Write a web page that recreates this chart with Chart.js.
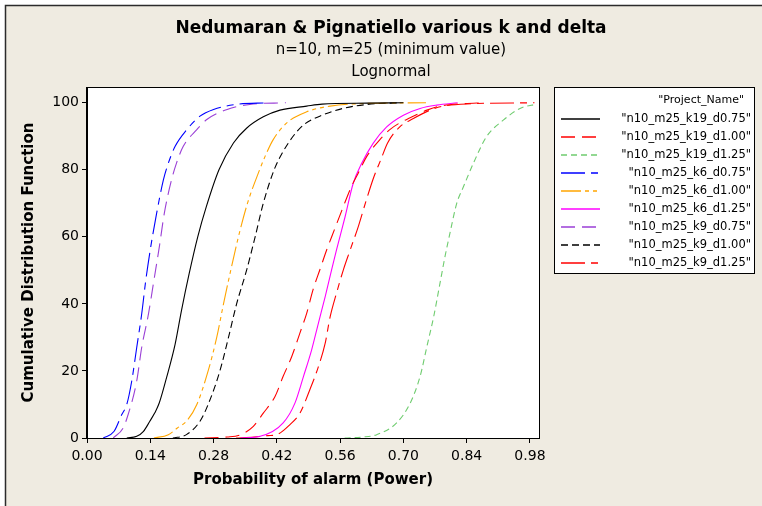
<!DOCTYPE html>
<html>
<head>
<meta charset="utf-8">
<title>Nedumaran &amp; Pignatiello various k and delta</title>
<script src="https://cdn.jsdelivr.net/npm/chart.js@4.4.1/dist/chart.umd.min.js"></script>
<style>
  html, body { margin: 0; padding: 0; background: #fff; }
  canvas { display: block; }
</style>
</head>
<body>
<canvas id="cdf" width="762" height="506"></canvas>
<script>
// Empirical CDFs of the alarm probability, one pair of arrays per run
const seriesNames = [
  '"n10_m25_k19_d0.75"', '"n10_m25_k19_d1.00"', '"n10_m25_k19_d1.25"',
  '"n10_m25_k6_d0.75"', '"n10_m25_k6_d1.00"', '"n10_m25_k6_d1.25"',
  '"n10_m25_k9_d0.75"', '"n10_m25_k9_d1.00"', '"n10_m25_k9_d1.25"'
];
const seriesColors = ['#000000', '#ff0000', '#6fcc6f', '#0000ff', '#ffa500', '#ff00ff', '#9a3fd6', '#000000', '#ff0000'];
const seriesDashes = [[], [14, 7], [6, 4], [24, 6, 7, 6], [20, 4, 4, 4, 4, 4], [], [14, 7], [7, 4], [24, 6, 7, 6]];

const powerK19D075 = [0.088, 0.110, 0.125, 0.139, 0.150, 0.160, 0.176, 0.195, 0.209, 0.226, 0.245, 0.264, 0.292, 0.324, 0.353, 0.390, 0.427, 0.486, 0.520, 0.620, 0.700];
const cdfK19D075   = [0, 0.5, 2, 5, 7.5, 10.5, 18, 28, 38, 49, 60, 69, 80, 88, 92.4, 95.8, 97.8, 99, 99.6, 99.9, 100];

const powerK19D100 = [0.26, 0.31, 0.34, 0.368, 0.39, 0.416, 0.434, 0.453, 0.471, 0.486, 0.500, 0.515, 0.530, 0.547, 0.567, 0.585, 0.600, 0.619, 0.648, 0.670, 0.692, 0.715, 0.752, 0.781, 0.83, 0.88];
const cdfK19D100   = [0, 0.3, 1, 3.5, 7.4, 12.4, 18.4, 24.3, 31.3, 37.2, 44.2, 50.1, 56, 62, 69, 75, 79, 84, 89, 92, 94, 95.5, 97.8, 99, 99.7, 100];

const powerK19D125 = [0.57, 0.61, 0.641, 0.685, 0.715, 0.737, 0.752, 0.767, 0.781, 0.792, 0.803, 0.818, 0.833, 0.855, 0.884, 0.921, 0.958, 0.995];
const cdfK19D125   = [0, 0.3, 1, 4.5, 10.4, 18.4, 27.3, 36.2, 46.2, 54.1, 61.1, 70, 75, 82, 89.9, 94.8, 98.3, 99.6];

const powerK6D075 = [0.036, 0.060, 0.077, 0.088, 0.099, 0.110, 0.121, 0.130, 0.141, 0.154, 0.169, 0.180, 0.195, 0.221, 0.250, 0.280, 0.330, 0.400];
const cdfK6D075   = [0, 2, 7, 10, 17, 27, 37, 47, 57, 67, 77, 82, 87, 92, 96, 98, 99.5, 100];

const powerK6D100 = [0.148, 0.18, 0.20, 0.22, 0.243, 0.268, 0.287, 0.302, 0.318, 0.335, 0.355, 0.379, 0.394, 0.412, 0.442, 0.486, 0.538, 0.62, 0.75];
const cdfK6D100   = [0, 1, 3, 5, 10, 20, 30, 40, 50, 60, 70, 79, 84, 89, 94, 97.3, 99, 99.8, 100];

const powerK6D125 = [0.34, 0.383, 0.434, 0.460, 0.479, 0.497, 0.512, 0.527, 0.541, 0.552, 0.571, 0.589, 0.608, 0.633, 0.663, 0.700, 0.737, 0.774, 0.82];
const cdfK6D125   = [0, 0.5, 4.5, 10.4, 18.4, 26.3, 34.3, 42.2, 50.1, 56.1, 66, 76, 82, 87.9, 92.8, 96.3, 98.3, 99.3, 100];

const powerK9D075 = [0.058, 0.080, 0.091, 0.110, 0.121, 0.136, 0.148, 0.160, 0.171, 0.187, 0.198, 0.213, 0.243, 0.265, 0.310, 0.360, 0.440];
const cdfK9D075   = [0, 3, 7, 17, 27, 37, 47, 57, 67, 77, 82, 87, 92, 95, 98, 99.5, 100];

const powerK9D100 = [0.19, 0.22, 0.25, 0.268, 0.294, 0.313, 0.331, 0.353, 0.372, 0.390, 0.414, 0.432, 0.456, 0.480, 0.515, 0.566, 0.62, 0.69];
const cdfK9D100   = [0, 1, 5, 10, 20, 30, 40, 50, 60, 70, 80, 85, 90, 93.5, 96, 98.3, 99.5, 100];

const powerK9D125 = [0.33, 0.37, 0.40, 0.42, 0.449, 0.471, 0.493, 0.512, 0.527, 0.538, 0.552, 0.567, 0.582, 0.600, 0.618, 0.635, 0.650, 0.665, 0.692, 0.722, 0.759, 0.788, 0.85, 0.99];
const cdfK9D125   = [0, 0.3, 0.7, 1, 4, 7.4, 14.4, 21.3, 28.3, 36.2, 43.2, 50.1, 56, 63, 71, 78, 83, 88, 92.8, 95.3, 97.8, 99, 99.7, 100];

const xTicks = [0.00, 0.14, 0.28, 0.42, 0.56, 0.70, 0.84, 0.98];
const yTicks = [0, 20, 40, 60, 80, 100];

const FONT = "'DejaVu Sans', Verdana, sans-serif";

function pts(xs, ys) {
  return xs.map((x, i) => ({ x: x, y: ys[i] }));
}

function series(i, xs, ys) {
  return {
    label: seriesNames[i],
    data: pts(xs, ys),
    borderColor: seriesColors[i],
    borderDash: seriesDashes[i],
    borderWidth: 1.1,
    pointRadius: 0,
    fill: false,
    cubicInterpolationMode: 'monotone'
  };
}

// white plot area, beige surround, frame around the axes
const backdrop = {
  id: 'backdrop',
  beforeDraw(chart) {
    const { ctx, chartArea: a, width, height } = chart;
    ctx.save();
    ctx.fillStyle = '#fff';
    ctx.fillRect(0, 0, width, height);
    ctx.fillStyle = '#efebe1';
    ctx.fillRect(5, 5, width - 5, height - 5);
    ctx.strokeStyle = '#2b2b2b';
    ctx.lineWidth = 1.5;
    ctx.beginPath();
    ctx.moveTo(5.5, height);
    ctx.lineTo(5.5, 5.5);
    ctx.lineTo(width, 5.5);
    ctx.stroke();
    ctx.fillStyle = '#fff';
    ctx.fillRect(a.left, a.top, a.right - a.left, a.bottom - a.top);
    ctx.restore();
  },
  afterDatasetsDraw(chart) {
    const { ctx, chartArea: a } = chart;
    ctx.save();
    ctx.strokeStyle = '#000';
    ctx.lineWidth = 1;
    ctx.strokeRect(Math.round(a.left) - 0.5, Math.round(a.top) + 0.5,
      Math.round(a.right - a.left) + 1, Math.round(a.bottom - a.top));
    ctx.restore();
  }
};

// boxed legend to the right of the plot
const sideLegend = {
  id: 'sideLegend',
  afterDraw(chart) {
    const { ctx } = chart;
    const box = { left: 554, top: 87, right: 754, bottom: 273 };
    ctx.save();
    ctx.fillStyle = '#fff';
    ctx.fillRect(box.left, box.top, box.right - box.left, box.bottom - box.top);
    ctx.strokeStyle = '#000';
    ctx.lineWidth = 1;
    ctx.strokeRect(box.left + 0.5, box.top + 0.5, box.right - box.left, box.bottom - box.top);

    ctx.fillStyle = '#000';
    ctx.textAlign = 'right';
    ctx.textBaseline = 'middle';
    ctx.font = '11px ' + FONT;
    ctx.fillText('"Project_Name"', 744, 100);

    ctx.font = '11.5px ' + FONT;
    seriesNames.forEach((name, i) => {
      const y = Math.round(118.5 + i * 18);
      ctx.strokeStyle = seriesColors[i];
      ctx.lineWidth = 1.5;
      ctx.setLineDash(seriesDashes[i]);
      ctx.beginPath();
      ctx.moveTo(561, y);
      ctx.lineTo(600, y);
      ctx.stroke();
      ctx.setLineDash([]);
      ctx.fillStyle = '#000';
      ctx.fillText(name, 751, y);
    });
    ctx.restore();
  }
};

new Chart(document.getElementById('cdf'), {
  type: 'line',
  data: {
    datasets: [
      series(0, powerK19D075, cdfK19D075),
      series(1, powerK19D100, cdfK19D100),
      series(2, powerK19D125, cdfK19D125),
      series(3, powerK6D075, cdfK6D075),
      series(4, powerK6D100, cdfK6D100),
      series(5, powerK6D125, cdfK6D125),
      series(6, powerK9D075, cdfK9D075),
      series(7, powerK9D100, cdfK9D100),
      series(8, powerK9D125, cdfK9D125)
    ]
  },
  options: {
    responsive: false,
    animation: false,
    devicePixelRatio: 1,
    layout: { padding: { left: 20, right: 0, top: 5, bottom: 0 } },
    plugins: {
      legend: { display: false },
      tooltip: { enabled: false },
      title: {
        display: true,
        text: 'Nedumaran & Pignatiello various k and delta',
        color: '#000',
        font: { family: FONT, size: 17, weight: 'bold', lineHeight: '20px' },
        padding: { top: 14, bottom: 0 }
      },
      subtitle: {
        display: true,
        text: ['n=10, m=25 (minimum value)', 'Lognormal'],
        color: '#000',
        font: { family: FONT, size: 15, lineHeight: '22px' },
        padding: { top: 0, bottom: 4 }
      }
    },
    scales: {
      x: {
        type: 'linear',
        min: 0,
        max: 1.0,
        afterBuildTicks: s => { s.ticks = xTicks.map(v => ({ value: v })); },
        afterFit: s => { s.height = 68; },
        ticks: {
          color: '#000',
          font: { family: FONT, size: 14 },
          padding: 5,
          autoSkip: false,
          maxRotation: 0,
          callback: v => v.toFixed(2)
        },
        grid: { drawOnChartArea: false, drawTicks: true, tickLength: 5, color: '#000' },
        border: { display: true, color: '#000' },
        title: {
          display: true,
          text: 'Probability of alarm (Power)',
          color: '#000',
          font: { family: FONT, size: 15, weight: 'bold', lineHeight: 1.2 },
          padding: { top: 0, bottom: 17 }
        }
      },
      y: {
        type: 'linear',
        min: 0,
        max: 104.7,
        afterBuildTicks: s => { s.ticks = yTicks.map(v => ({ value: v })); },
        afterFit: s => { s.width = 67; },
        ticks: {
          color: '#000',
          font: { family: FONT, size: 14 },
          padding: 3
        },
        grid: { drawOnChartArea: false, drawTicks: true, tickLength: 5, color: '#000' },
        border: { display: true, color: '#000' },
        title: {
          display: true,
          text: 'Cumulative Distribution Function',
          color: '#000',
          font: { family: FONT, size: 15, weight: 'bold', lineHeight: 1.2 },
          padding: { top: 0, bottom: 0 }
        }
      },
      legendSpace: {
        type: 'linear',
        position: 'right',
        display: true,
        afterFit: s => { s.width = 223; },
        ticks: { display: false },
        grid: { display: false },
        border: { display: false }
      }
    }
  },
  plugins: [backdrop, sideLegend]
});
</script>
</body>
</html>
